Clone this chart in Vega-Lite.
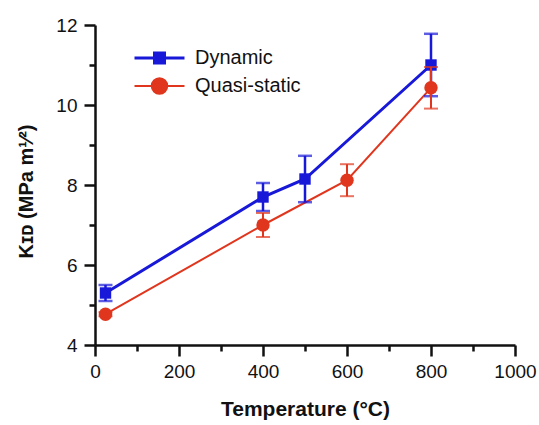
{
  "$schema": "https://vega.github.io/schema/vega-lite/v6.json",
  "width": 420,
  "height": 320,
  "autosize": "none",
  "padding": {"left": 95, "top": 25, "right": 24, "bottom": 80},
  "background": "white",
  "config": {
    "view": {"stroke": null},
    "font": "Liberation Sans",
    "axis": {
      "grid": false,
      "domainColor": "#111",
      "domainWidth": 2.5,
      "tickColor": "#111",
      "tickWidth": 2.5,
      "tickSize": 11,
      "labelFontSize": 19,
      "labelColor": "#111",
      "labelPadding": 7,
      "titleFontSize": 21,
      "titleFontWeight": "bold",
      "titleColor": "#111"
    }
  },
  "data": {
    "values": [
      {"series": "Dynamic", "temp": 25, "k": 5.3, "err": 0.2},
      {"series": "Dynamic", "temp": 400, "k": 7.7, "err": 0.35},
      {"series": "Dynamic", "temp": 500, "k": 8.15, "err": 0.58},
      {"series": "Dynamic", "temp": 800, "k": 11.0, "err": 0.78},
      {"series": "Quasi-static", "temp": 25, "k": 4.77, "err": 0.05},
      {"series": "Quasi-static", "temp": 400, "k": 7.0, "err": 0.3},
      {"series": "Quasi-static", "temp": 600, "k": 8.12, "err": 0.4},
      {"series": "Quasi-static", "temp": 800, "k": 10.43, "err": 0.52}
    ]
  },
  "resolve": {"axis": {"x": "independent", "y": "independent"}},
  "layer": [
    {
      "mark": {"type": "line"},
      "encoding": {
        "x": {"field": "temp", "type": "quantitative", "scale": {"domain": [0, 1000], "nice": false},
          "axis": {"values": [0, 200, 400, 600, 800, 1000], "format": "d", "title": "Temperature (°C)", "titlePadding": 17, "labelPadding": 6, "labelFlush": false, "orient": "bottom"}},
        "y": {"field": "k", "type": "quantitative", "scale": {"domain": [4, 12], "nice": false, "zero": false},
          "axis": {"values": [4, 6, 8, 10, 12], "title": "Kɪᴅ (MPa m¹⁄²)", "titleFontSize": 20, "titleY": 166, "titlePadding": 19, "orient": "left"}},
        "color": {"field": "series", "type": "nominal",
          "scale": {"domain": ["Dynamic", "Quasi-static"], "range": ["#1818d8", "#e0361e"]},
          "legend": {
            "title": null,
            "orient": "none",
            "legendX": 38,
            "legendY": 19,
            "symbolSize": 2500,
            "clipHeight": 28,
            "rowPadding": 0,
            "labelFontSize": 20,
            "labelColor": "#111",
            "labelOffset": 9,
            "padding": 0,
            "encode": {
              "symbols": {
                "update": {
                  "shape": {"signal": "datum.value === 'Dynamic' ? 'M-1,0H1M-0.2,-0.2H0.2V0.2H-0.2Z' : 'M-1,0H1M0.31,0A0.31,0.31 0 1,1 -0.31,0A0.31,0.31 0 1,1 0.31,0Z'"},
                  "fill": {"signal": "datum.value === 'Dynamic' ? '#1818d8' : '#e0361e'"},
                  "stroke": {"signal": "datum.value === 'Dynamic' ? '#1818d8' : '#e0361e'"},
                  "strokeWidth": {"value": 2},
                  "opacity": {"value": 1}
                }
              }
            }
          }},
        "strokeWidth": {"field": "series", "type": "nominal",
          "scale": {"domain": ["Dynamic", "Quasi-static"], "range": [3, 2]}, "legend": null}
      }
    },
    {
      "transform": [{"filter": "datum.series === 'Dynamic'"}],
      "mark": {"type": "errorbar", "color": "#1818d8", "thickness": 2.5, "ticks": {"size": 14, "thickness": 2.5}},
      "encoding": {
        "x": {"field": "temp", "type": "quantitative", "axis": null},
        "y": {"field": "k", "type": "quantitative", "axis": null},
        "yError": {"field": "err"}
      }
    },
    {
      "transform": [{"filter": "datum.series === 'Dynamic'"}],
      "mark": {"type": "point", "shape": "square", "filled": true, "opacity": 1, "size": 130, "color": "#1818d8"},
      "encoding": {
        "x": {"field": "temp", "type": "quantitative",
          "axis": {"values": [100, 300, 500, 700, 900], "labels": false, "domain": false, "tickSize": 6, "title": null, "orient": "bottom"}},
        "y": {"field": "k", "type": "quantitative",
          "axis": {"values": [5, 7, 9, 11], "labels": false, "domain": false, "tickSize": 6, "title": null, "orient": "left"}}
      }
    },
    {
      "transform": [{"filter": "datum.series === 'Quasi-static'"}],
      "mark": {"type": "errorbar", "color": "#e0361e", "thickness": 2, "ticks": {"size": 14, "thickness": 2}},
      "encoding": {
        "x": {"field": "temp", "type": "quantitative", "axis": null},
        "y": {"field": "k", "type": "quantitative", "axis": null},
        "yError": {"field": "err"}
      }
    },
    {
      "transform": [{"filter": "datum.series === 'Quasi-static'"}],
      "mark": {"type": "point", "shape": "circle", "filled": true, "opacity": 1, "size": 180, "color": "#e0361e"},
      "encoding": {
        "x": {"field": "temp", "type": "quantitative", "axis": null},
        "y": {"field": "k", "type": "quantitative", "axis": null}
      }
    }
  ]
}
